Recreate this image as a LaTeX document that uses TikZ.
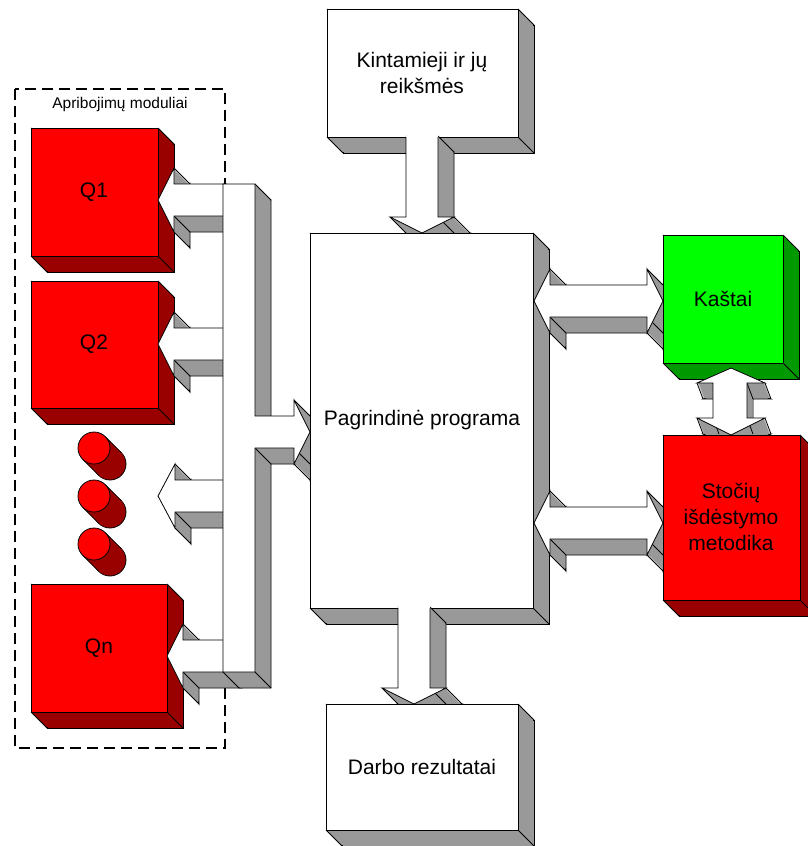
\documentclass[tikz,border=0pt]{standalone}
\usepackage{fontspec}
\setmainfont{Liberation Sans}

\definecolor{sidegray}{HTML}{999999}
\definecolor{qred}{HTML}{FF0000}
\definecolor{qdark}{HTML}{990000}
\definecolor{kgreen}{HTML}{00FF00}
\definecolor{kdark}{HTML}{009900}

% depth of the 3D blocks
\newcommand\depthx{16}
\newcommand\depthy{16}
\pgfdeclareplotmark{depthedge}{\pgfpathmoveto{\pgfpointorigin}\pgfpathlineto{\pgfpoint{\depthx pt}{-\depthy pt}}\pgfusepathqstroke}

% extruded block: side colour, face colour, corners, outline of the face
\newcommand\solid[4]{%
  \filldraw[fill=#1, shift={(\depthx,\depthy)}] plot coordinates {#3} -- cycle;
  \foreach \k in {15,14,...,1}
    \fill[#1, shift={({\k*\depthx/16},{\k*\depthy/16})}] plot coordinates {#3} -- cycle;
  \draw plot[only marks, mark=depthedge] coordinates {#3};
  \fill[#2] plot coordinates {#3} -- cycle;
  \draw #4;
}
\newcommand\cube[6]{\solid{#1}{#2}{(#3,#4) (#5,#4) (#5,#6) (#3,#6)}{(#3,#4) rectangle (#5,#6)}}

\begin{document}
\begin{tikzpicture}[
    x=1pt, y=-1pt,
    line width=0.8pt,
    caption/.style={font=\fontsize{21}{26}\selectfont, align=center, inner sep=0pt},
    title/.style={font=\fontsize{15.5}{18}\selectfont, inner sep=0pt},
    frame/.style={draw=black, line width=1.5pt, dash pattern=on 11pt off 6pt}
]
\useasboundingbox (0,0) rectangle (807,846);

% Constraint modules frame
\draw[frame] (15,89) rectangle (225,748);
\node[title] (apr) at (120,104) {Apribojimų moduliai};

% Modules and their arrows
\cube{qdark}{qred}{31}{128}{158}{256}
\solid{sidegray}{white}{(158,200) (174,168) (174,184) (226,184) (226,216) (174,216) (174,232)}
  {(158,200) -- (174,168) -- (174,184) -- (226,184) -- (226,216) -- (174,216) -- (174,232) -- cycle}
\cube{qdark}{qred}{31}{281}{158}{408}
\solid{sidegray}{white}{(158,344) (174,312) (174,328) (226,328) (226,360) (174,360) (174,376)}
  {(158,344) -- (174,312) -- (174,328) -- (226,328) -- (226,360) -- (174,360) -- (174,376) -- cycle}

% Dots
\foreach \cy in {448,496,544} {
  \filldraw[fill=qdark] (110,\cy+16) circle [radius=16pt];
  \foreach \k in {15,14,...,1}
    \fill[qdark] (94+\k,\cy+\k) circle [radius=16pt];
  \draw (105.3,\cy-11.3) -- ++(16,16) (82.7,\cy+11.3) -- ++(16,16);
  \filldraw[fill=qred] (94,\cy) circle [radius=16pt];
}
\solid{sidegray}{white}{(158,496) (175,464) (175,480) (226,480) (226,512) (175,512) (175,528)}
  {(158,496) -- (175,464) -- (175,480) -- (226,480) -- (226,512) -- (175,512) -- (175,528) -- cycle}

\cube{qdark}{qred}{31}{584}{167}{712}
\solid{sidegray}{white}{(167,656) (183,624) (183,640) (226,640) (226,672) (183,672) (183,688)}
  {(167,656) -- (183,624) -- (183,640) -- (226,640) -- (226,672) -- (183,672) -- (183,688) -- cycle}

% Bus into the main program
\solid{sidegray}{white}{(223,184) (255,184) (255,416) (294,416) (294,400) (310,432) (294,464) (294,448) (255,448) (255,672) (223,672)}
  {(223,184) -- (255,184) -- (255,416) -- (294,416) -- (294,400) -- (310,432) -- (294,464) -- (294,448) -- (255,448) -- (255,672) -- (223,672) -- cycle}

% Variables, main program, results
\cube{sidegray}{white}{327}{9}{518}{137}
\solid{sidegray}{white}{(406,136) (438,136) (438,217) (454,217) (422,233) (390,217) (406,217)}
  {(406,137) -- (406,217) -- (390,217) -- (422,233) -- (454,217) -- (438,217) -- (438,137)}
\cube{sidegray}{white}{310}{233}{533}{608}
\solid{sidegray}{white}{(398,607) (430,607) (430,688) (446,688) (414,704) (382,688) (398,688)}
  {(398,608) -- (398,688) -- (382,688) -- (414,704) -- (446,688) -- (430,688) -- (430,608)}
\cube{sidegray}{white}{326}{704}{518}{830}

% Costs and placement method
\solid{sidegray}{white}{(534,301) (550,269) (550,285) (647,285) (647,269) (663,301) (647,333) (647,317) (550,317) (550,333)}
  {(534,301) -- (550,269) -- (550,285) -- (647,285) -- (647,269) -- (663,301) -- (647,333) -- (647,317) -- (550,317) -- (550,333) -- cycle}
\solid{sidegray}{white}{(534,523) (550,491) (550,507) (647,507) (647,491) (663,523) (647,555) (647,539) (550,539) (550,555)}
  {(534,523) -- (550,491) -- (550,507) -- (647,507) -- (647,491) -- (663,523) -- (647,555) -- (647,539) -- (550,539) -- (550,555) -- cycle}
\cube{kdark}{kgreen}{663}{235}{783}{363}
\begin{scope}
  \renewcommand\depthx{6}
  \solid{sidegray}{white}{(731,368) (765,383) (747,383) (747,418) (765,418) (731,435) (697,418) (713,418) (713,383) (697,383)}
    {(731,368) -- (765,383) -- (747,383) -- (747,418) -- (765,418) -- (731,435) -- (697,418) -- (713,418) -- (713,383) -- (697,383) -- cycle}
\end{scope}
\cube{qdark}{qred}{663}{435}{800}{600}

% Texts
\node[caption] (q1) at (94,192) {Q1};
\node[caption] (q2) at (94,344) {Q2};
\node[caption] (qn) at (99,648) {Qn};
\node[caption] (kin) at (422,73) {Kintamieji ir jų\\reikšmės};
\node[caption] (prog) at (422,420) {Pagrindinė programa};
\node[caption] (darbo) at (422,767) {Darbo rezultatai};
\node[caption] (kastai) at (723,299) {Kaštai};
\node[caption] (stociu) at (731,517) {Stočių\\išdėstymo\\metodika};

\end{tikzpicture}
\end{document}
